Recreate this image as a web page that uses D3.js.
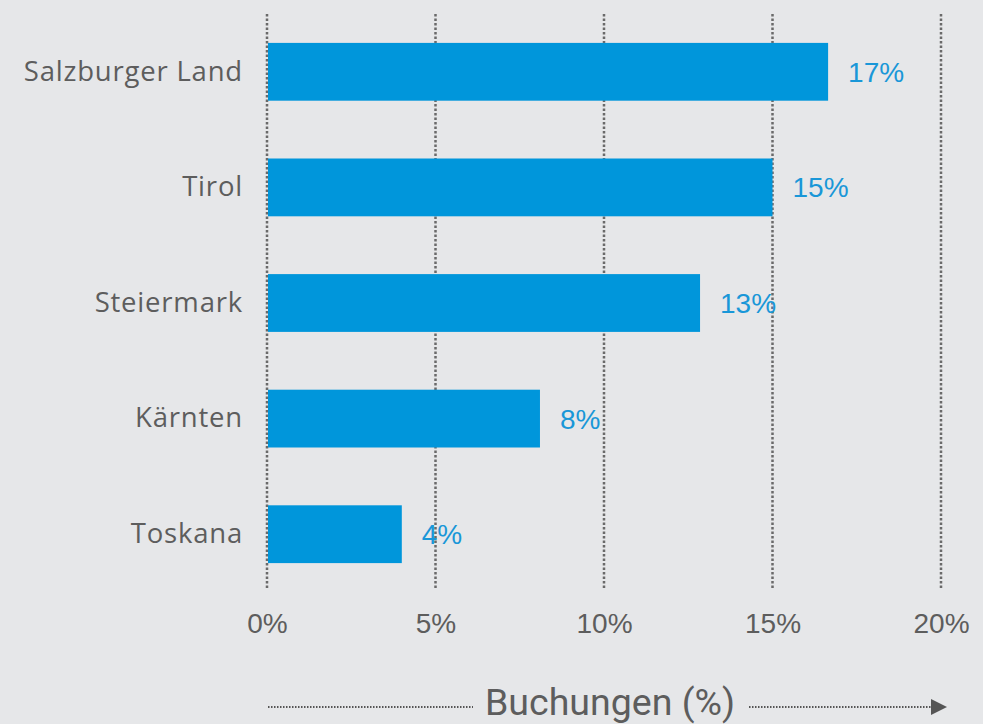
<!DOCTYPE html>
<html>
<head>
<meta charset="utf-8">
<script src="https://cdn.jsdelivr.net/npm/d3@7"></script>
<style>
  html, body { margin: 0; padding: 0; background: #e6e7e9; }
  svg { display: block; }
</style>
</head>
<body>
<svg id="chart"></svg>
<script>
// data
const regions = ['Salzburger Land', 'Tirol', 'Steiermark', 'Kärnten', 'Toskana'];
const shares = [16.65, 15.0, 12.85, 8.1, 4.0];
const tickValues = [0, 5, 10, 15, 20];
const axisTitle = 'Buchungen (%)';

const width = 983;
const height = 724;
const blue = '#0096db';
const grey = '#5d5d5d';

let svg = d3.select('#chart')
    .attr('width', width)
    .attr('height', height);

let x = d3.scaleLinear()
    .domain([0, 20])
    .range([267, 941]);

let y = d3.scaleBand()
    .domain(regions)
    .range([14, 592])
    .paddingInner(0.5)
    .paddingOuter(0.25);

// dotted gridlines
svg.append('g')
    .selectAll('line')
    .data(tickValues)
    .enter()
    .append('line')
    .attr('x1', d => x(d))
    .attr('x2', d => x(d))
    .attr('y1', 14)
    .attr('y2', 588)
    .attr('stroke', '#6a6a6a')
    .attr('stroke-width', 2.5)
    .attr('stroke-dasharray', '2.5,2');

// bars
svg.append('g')
    .selectAll('rect')
    .data(regions)
    .enter()
    .append('rect')
    .attr('x', x(0) + 1)
    .attr('y', d => y(d))
    .attr('width', (d, i) => x(shares[i]) - x(0) - 1)
    .attr('height', y.bandwidth())
    .attr('fill', blue);

// value labels
svg.append('g')
    .selectAll('text')
    .data(regions)
    .enter()
    .append('text')
    .attr('x', (d, i) => x(shares[i]) + 20)
    .attr('y', d => y(d) + y.bandwidth() / 2)
    .attr('dy', '0.36em')
    .attr('font-family', '"Liberation Sans", Arial, sans-serif')
    .attr('font-size', 28)
    .attr('fill', '#1997d8')
    .text((d, i) => Math.round(shares[i]) + '%');

// category labels
let yAxis = svg.append('g')
    .attr('transform', 'translate(' + (x(0) - 24) + ',0)')
    .call(d3.axisLeft(y).tickSize(0).tickPadding(0));
yAxis.select('.domain').remove();
yAxis.selectAll('text')
    .attr('font-family', '"Open Sans", sans-serif')
    .attr('font-size', 27.5)
    .attr('letter-spacing', 0.8)
    .attr('fill', grey);

// x tick labels
let xAxis = svg.append('g')
    .attr('transform', 'translate(0,613)')
    .call(d3.axisBottom(x).tickValues(tickValues).tickFormat(d => d + '%').tickSize(0).tickPadding(0));
xAxis.select('.domain').remove();
xAxis.selectAll('text')
    .attr('font-family', '"Liberation Sans", Arial, sans-serif')
    .attr('font-size', 28)
    .attr('fill', grey);

// axis title with dotted arrow
let lineY = 707;
let title = svg.append('text')
    .attr('x', 610)
    .attr('y', 715)
    .attr('text-anchor', 'middle')
    .attr('font-family', 'Roboto, sans-serif')
    .attr('font-size', 37.5)
    .attr('fill', grey)
    .text(axisTitle);

let bb = title.node().getBBox();

svg.append('line')
    .attr('x1', 268)
    .attr('x2', bb.x - 12)
    .attr('y1', lineY)
    .attr('y2', lineY)
    .attr('stroke', '#555')
    .attr('stroke-width', 2)
    .attr('stroke-dasharray', '1.5,1.5');

svg.append('line')
    .attr('x1', bb.x + bb.width + 14)
    .attr('x2', 932)
    .attr('y1', lineY)
    .attr('y2', lineY)
    .attr('stroke', '#555')
    .attr('stroke-width', 2)
    .attr('stroke-dasharray', '1.5,1.5');

svg.append('path')
    .attr('d', 'M931,' + (lineY - 8) + 'L947,' + lineY + 'L931,' + (lineY + 8) + 'Z')
    .attr('fill', '#555');
</script>
</body>
</html>
